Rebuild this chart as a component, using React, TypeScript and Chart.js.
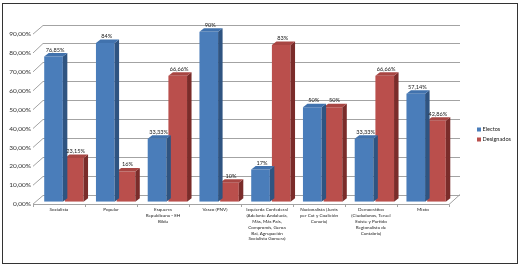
import React, { useEffect, useRef } from "react";
import { Chart, registerables } from "chart.js";

Chart.register(...registerables);

const categories: string[][] = [
  ["Socialista"],
  ["Popular"],
  ["Esquerra", "Republicana - EH", "Bildu"],
  ["Vasco (PNV)"],
  ["Izquierda Confederal", "(Adelante Andalucía,", "Más, Más País,", "Compromís, Geroa", "Bai, Agrupación", "Socialista Gomera)"],
  ["Nacionalista (Junts", "per Cat y Coalición", "Canaria)"],
  ["Democrático", "(Ciudadanos, Teruel", "Existe y Partido", "Regionalista de", "Cantabria)"],
  ["Mixto"],
];
const electos: number[] = [76.85, 84, 33.33, 90, 17, 50, 33.33, 57.14];
const designados: number[] = [23.15, 16, 66.66, 10, 83, 50, 66.66, 42.86];
const seriesNames: string[] = ["Electos", "Designados"];
const yTicks: number[] = [0, 10, 20, 30, 40, 50, 60, 70, 80, 90];

const FRONT = ["#4A7DBA", "#BA4F4C"];
const SIDE = ["#2F5481", "#7A2C2A"];
const TOP = ["#4172AD", "#A84643"];
const FONT = "Lato, 'Open Sans', sans-serif";

const fmtPct = (v: number) =>
  Number.isInteger(v) ? `${v}%` : `${v.toFixed(2).replace(".", ",")}%`;
const fmtTick = (v: number) => `${v.toFixed(2).replace(".", ",")}%`;

const DX = 4.5;
const DY = 3.5;

const threeD = {
  id: "threeD",
  beforeDraw(chart: any) {
    const ctx = chart.ctx;
    ctx.save();
    ctx.fillStyle = "#ffffff";
    ctx.fillRect(0, 0, chart.width, chart.height);
    ctx.restore();
  },
  beforeDatasetsDraw(chart: any) {
    const { ctx, chartArea: a, scales } = chart;
    const y = scales.y;
    const x = scales.x;
    const lf = a.left - 5;
    const lb = a.left + 5;
    const rf = a.right - 3;
    const rb = a.right + 8;
    const dyF = 2.4;
    const dyB = -7.2;
    ctx.save();
    ctx.lineWidth = 1;
    ctx.strokeStyle = "#A3A3A3";
    yTicks.forEach((v) => {
      const yb = Math.round(y.getPixelForValue(v) + dyB) + 0.5;
      const yf = y.getPixelForValue(v) + dyF;
      ctx.beginPath();
      ctx.moveTo(lb, yb);
      ctx.lineTo(rb, yb);
      ctx.stroke();
      ctx.beginPath();
      ctx.moveTo(lf, yf);
      ctx.lineTo(lb, yb);
      ctx.stroke();
    });
    const y0f = Math.round(y.getPixelForValue(0) + dyF) + 0.5;
    const y0b = y.getPixelForValue(0) + dyB;
    ctx.beginPath();
    ctx.moveTo(lf, y0f);
    ctx.lineTo(rf, y0f);
    ctx.lineTo(rb, y0b);
    ctx.stroke();
    const n = categories.length;
    const step = x.getPixelForValue(1) - x.getPixelForValue(0);
    for (let i = 0; i <= n; i++) {
      const xb = x.getPixelForValue(0) - step / 2 + i * step;
      const xf = lf + ((xb - a.left) / a.width) * (rf - lf);
      const px = Math.round(xf) + 0.5;
      ctx.beginPath();
      ctx.moveTo(px, y0f);
      ctx.lineTo(px, y0f + 2.5);
      ctx.stroke();
    }
    ctx.fillStyle = "#333333";
    ctx.font = `6.5px ${FONT}`;
    ctx.textAlign = "right";
    ctx.textBaseline = "middle";
    yTicks.forEach((v) => {
      const yf = y.getPixelForValue(v) + dyF;
      ctx.fillText(fmtTick(v), lf - 2, yf);
    });
    ctx.restore();
  },
  afterDatasetDraw(chart: any, args: any) {
    const { ctx } = chart;
    const idx = args.index;
    const meta = chart.getDatasetMeta(idx);
    ctx.save();
    meta.data.forEach((el: any) => {
      const p = el.getProps(["x", "y", "base", "width"], true);
      const xl = p.x - p.width / 2;
      const xr = p.x + p.width / 2;
      const top = p.y;
      const base = p.base;
      ctx.fillStyle = SIDE[idx];
      ctx.beginPath();
      ctx.moveTo(xr, top);
      ctx.lineTo(xr + DX, top - DY);
      ctx.lineTo(xr + DX, base - DY);
      ctx.lineTo(xr, base);
      ctx.closePath();
      ctx.fill();
      ctx.fillStyle = TOP[idx];
      ctx.beginPath();
      ctx.moveTo(xl, top);
      ctx.lineTo(xl + DX, top - DY);
      ctx.lineTo(xr + DX, top - DY);
      ctx.lineTo(xr, top);
      ctx.closePath();
      ctx.fill();
    });
    ctx.restore();
  },
  afterDraw(chart: any) {
    const { ctx, chartArea: a, scales } = chart;
    const x = scales.x;
    const lf = a.left - 5;
    const rf = a.right - 3;
    ctx.save();
    ctx.fillStyle = "#222222";
    ctx.font = `5.6px ${FONT}`;
    ctx.textAlign = "center";
    ctx.textBaseline = "bottom";
    [electos, designados].forEach((vals, di) => {
      const meta = chart.getDatasetMeta(di);
      meta.data.forEach((el: any, i: number) => {
        const p = el.getProps(["x", "y"], true);
        ctx.fillText(fmtPct(vals[i]), p.x + 1.5, p.y - DY - 0.5);
      });
    });
    ctx.fillStyle = "#222222";
    ctx.font = `4.6px ${FONT}`;
    ctx.textAlign = "center";
    ctx.textBaseline = "middle";
    categories.forEach((lines, i) => {
      const xb = x.getPixelForValue(i);
      const xf = lf + ((xb - a.left) / a.width) * (rf - lf);
      lines.forEach((ln, j) => {
        ctx.fillText(ln, xf, 209.5 + j * 5.9);
      });
    });
    ctx.font = `5.6px ${FONT}`;
    ctx.textAlign = "left";
    ctx.textBaseline = "middle";
    seriesNames.forEach((nm, i) => {
      const cy = 129.5 + i * 10;
      ctx.fillStyle = FRONT[i];
      ctx.fillRect(477, cy - 2, 4, 4);
      ctx.fillStyle = "#222222";
      ctx.fillText(nm, 482.5, cy);
    });
    ctx.strokeStyle = "#333333";
    ctx.lineWidth = 1;
    ctx.strokeRect(2.5, 3.5, 515, 260);
    ctx.restore();
  },
};

export default function App() {
  const ref = useRef<HTMLCanvasElement | null>(null);
  useEffect(() => {
    document.body.style.margin = "0";
    if (!ref.current) return;
    const chart = new Chart(ref.current, {
      type: "bar",
      data: {
        labels: categories.map((c) => c.join(" ")),
        datasets: [
          { label: seriesNames[0], data: electos, backgroundColor: FRONT[0], borderWidth: 0 },
          { label: seriesNames[1], data: designados, backgroundColor: FRONT[1], borderWidth: 0 },
        ],
      },
      options: {
        responsive: false,
        animation: false,
        devicePixelRatio: 1,
        layout: { padding: { left: 38, right: 69, top: 31.7, bottom: 65.3 } },
        plugins: { legend: { display: false }, tooltip: { enabled: false } },
        scales: {
          x: { display: false, categoryPercentage: 0.58, barPercentage: 1 },
          y: { display: false, min: 0, max: 90 },
        },
      },
      plugins: [threeD],
    });
    return () => chart.destroy();
  }, []);
  return <canvas ref={ref} width={521} height={267} style={{ display: "block" }} />;
}
